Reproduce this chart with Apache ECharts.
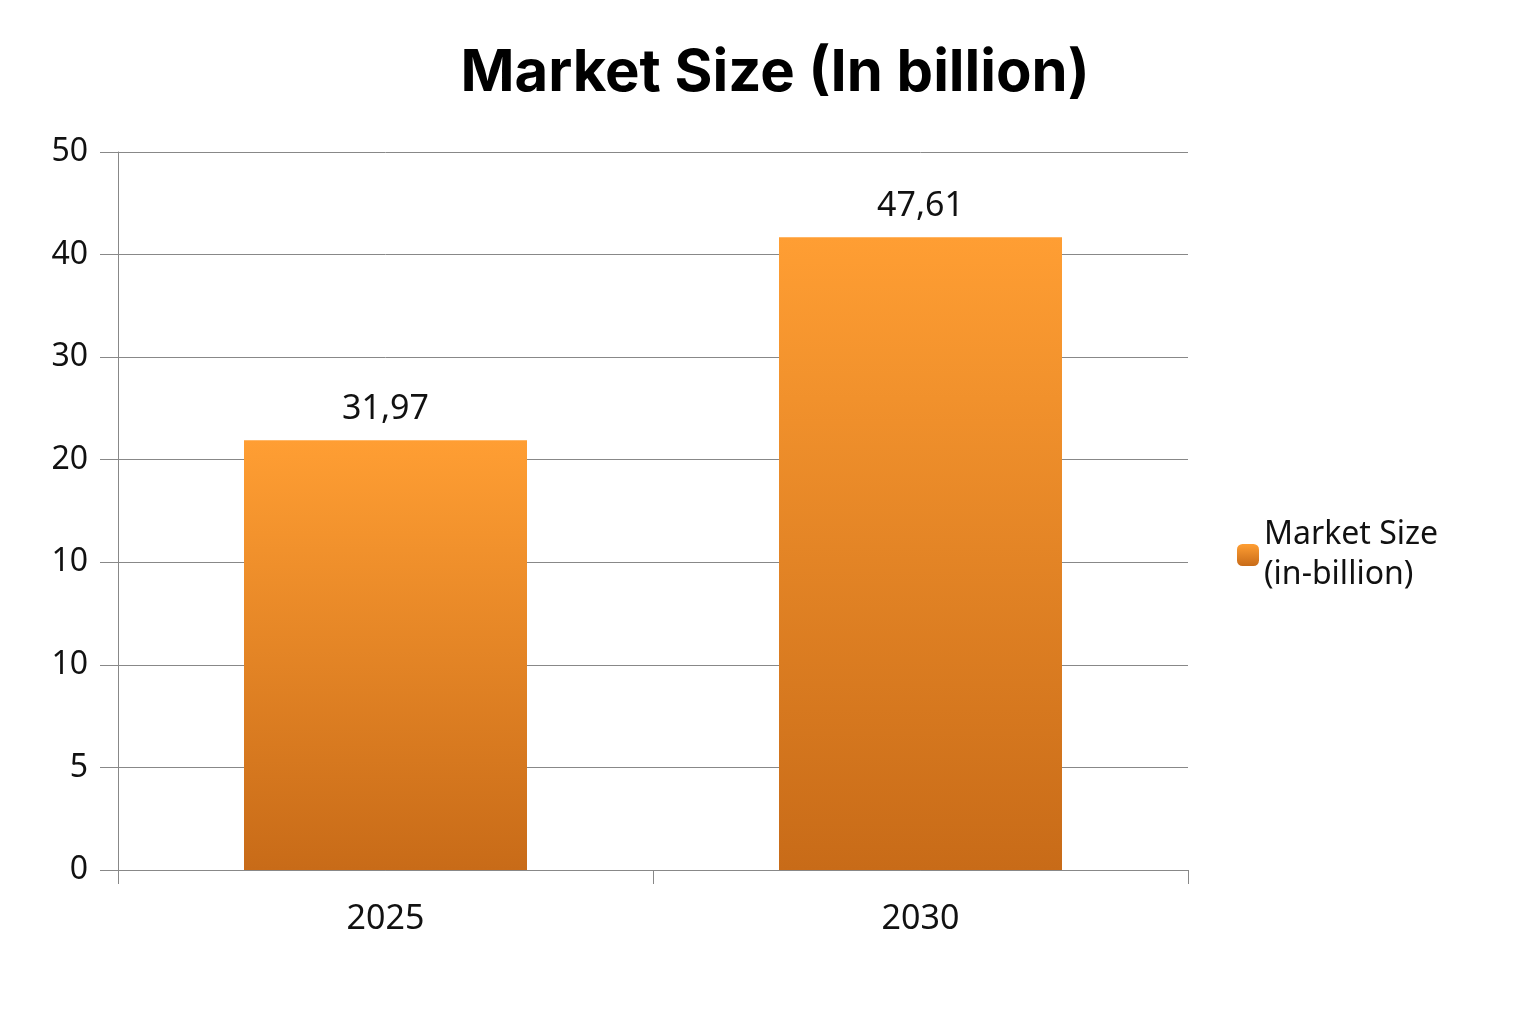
<!DOCTYPE html>
<html>
<head>
<meta charset="utf-8">
<script src="https://cdn.jsdelivr.net/npm/echarts@6/dist/echarts.min.js"></script>
<style>html,body{margin:0;padding:0;background:#fff}#chartWrapper{width:1536px;height:1024px}</style>
</head>
<body>
<div id="chartWrapper"></div>
<script>
// categories and values
var years = ['2025', '2030'];
// bar heights measured in tick steps of the (oddly labelled) y axis
var barHeights = [4.19, 6.17];
var valueLabels = ['31,97', '47,61'];
var tickLabels = ['0', '5', '10', '10', '20', '30', '40', '50'];
var seriesName = 'Market Size\n(in-billion)';

var myChart = echarts.init(document.getElementById('chartWrapper'));

var option = {
    title: {
        text: 'Market Size (In billion)',
        left: 770,
        top: 40,
        textAlign: 'center',
        textStyle: {
            fontFamily: 'Inter',
            fontSize: 58,
            fontWeight: 'bold',
            color: '#000'
        }
    },
    legend: {
        orient: 'vertical',
        left: 1232,
        top: 510,
        itemWidth: 22,
        itemHeight: 22,
        textStyle: {
            fontFamily: 'Noto Sans',
            fontSize: 32,
            lineHeight: 40,
            color: '#111'
        },
        data: [seriesName]
    },
    grid: {
        left: 118,
        right: 348,
        top: 152,
        bottom: 154
    },
    xAxis: {
        type: 'category',
        data: years,
        axisLine: { lineStyle: { color: '#888' } },
        axisTick: { show: true, length: 14, lineStyle: { color: '#888' } },
        axisLabel: {
            margin: 32,
            fontFamily: 'Noto Sans',
            fontSize: 34,
            color: '#111'
        }
    },
    yAxis: {
        type: 'value',
        min: 0,
        max: 7,
        interval: 1,
        axisLine: { show: true, lineStyle: { color: '#888' } },
        axisTick: { show: true, length: 18, lineStyle: { color: '#888' } },
        splitLine: { lineStyle: { color: '#888' } },
        axisLabel: {
            margin: 30,
            fontFamily: 'Noto Sans',
            fontSize: 32,
            color: '#111',
            formatter: function(value) {
                return tickLabels[value];
            }
        }
    },
    series: [{
        name: seriesName,
        type: 'bar',
        barWidth: 283,
        data: barHeights,
        itemStyle: {
            color: new echarts.graphic.LinearGradient(0, 0, 0, 1, [
                { offset: 0, color: '#ff9e33' },
                { offset: 1, color: '#c86b18' }
            ])
        },
        label: {
            show: true,
            position: 'top',
            distance: 14,
            fontFamily: 'Noto Sans',
            fontSize: 34,
            color: '#111',
            formatter: function(p) {
                return valueLabels[p.dataIndex];
            }
        }
    }]
};

myChart.setOption(option);
</script>
</body>
</html>
